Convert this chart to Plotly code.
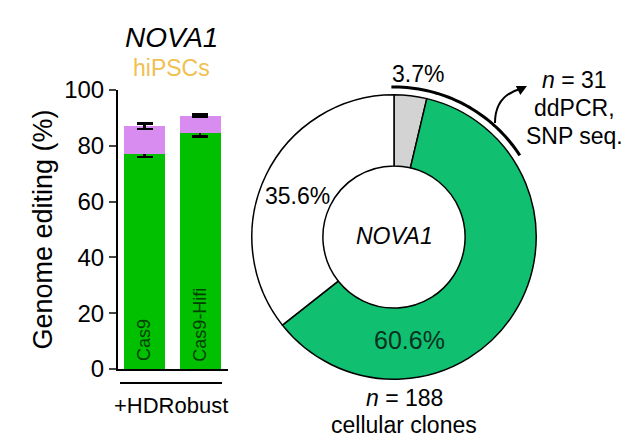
import plotly.graph_objects as go
import numpy as np

bar_cats = ["Cas9", "Cas9-Hifi"]
hdr_vals = [77.0, 84.5]
hdr_err = [1.0, 1.2]
indel_vals = [10.0, 6.3]
indel_err = [1.0, 0.5]
pie_labels = ["other", "edited", "unedited"]
pie_vals = [3.7, 60.6, 35.6]
tick_vals = [0, 20, 40, 60, 80, 100]

W, H, OFF = 629, 441, 8
def PX(px): return (px - OFF) / W
def PY(py): return 1 - (py - OFF) / H

F = "Liberation Sans, Arial"
fig = go.Figure()
fig.add_bar(x=bar_cats, y=hdr_vals, marker_color="#00c000", marker_line_width=0, width=0.74,
            error_y=dict(type="data", array=hdr_err, color="black", thickness=2.5, width=8))
fig.add_bar(x=bar_cats, y=indel_vals, marker_color="#d98cf0", marker_line_width=0, width=0.74,
            error_y=dict(type="data", array=indel_err, color="black", thickness=2.5, width=8))
cx, cy, R = 394, 237, 139
Rd = R * 1.023
fig.add_pie(values=pie_vals, labels=pie_labels, hole=0.5, sort=False, direction="clockwise",
            rotation=0, textinfo="none", showlegend=False, hoverinfo="skip",
            marker=dict(colors=["#d3d3d3", "#10c070", "white"], line=dict(color="black", width=1.5)),
            domain=dict(x=[PX(cx - Rd), PX(cx + Rd)], y=[PY(cy + Rd), PY(cy - Rd)]))
fig.update_layout(
    width=W, height=H, barmode="stack", showlegend=False,
    paper_bgcolor="white", plot_bgcolor="white",
    margin=dict(l=0, r=0, t=0, b=0, autoexpand=False),
    font=dict(family=F, color="black"),
    xaxis=dict(domain=[PX(118), PX(228)], range=[-0.48, 1.5], showticklabels=False, ticks="",
               showline=True, linecolor="black", linewidth=2, showgrid=False),
    yaxis=dict(domain=[PY(369), PY(90)], range=[0, 100], tickvals=tick_vals, ticks="outside",
               ticklen=7, tickwidth=2, showline=True, linecolor="black", linewidth=2,
               showgrid=False, zeroline=False, tickfont=dict(size=24),
               title=dict(text="Genome editing (%)", font=dict(size=27), standoff=4)),
)
for c in bar_cats:
    fig.add_annotation(x=c, y=2, yanchor="bottom", text=c, textangle=-90, showarrow=False,
                       font=dict(size=18, color="#004000"))
ann = [
    (171, 38, "<i>NOVA1</i>", 28, "black"),
    (171, 68, "hiPSCs", 23, "#f0c050"),
    (171, 405, "+HDRobust", 22, "black"),
    (418, 74, "3.7%", 23, "black"),
    (297, 196, "35.6%", 23, "black"),
    (409, 340, "60.6%", 25, "#0a3020"),
    (394, 236, "<i>NOVA1</i>", 23, "black"),
    (404, 398, "<i>n</i> = 188", 23, "black"),
    (404, 425, "cellular clones", 23, "black"),
    (574, 80, "<i>n</i> = 31", 23, "black"),
    (574, 108, "ddPCR,", 23, "black"),
    (574, 136, "SNP seq.", 23, "black"),
]
for x, y, t, s, col in ann:
    fig.add_annotation(xref="paper", yref="paper", x=PX(x), y=PY(y), text=t, showarrow=False,
                       font=dict(size=s, color=col), xanchor="center", yanchor="middle")
fig.add_shape(type="line", xref="paper", yref="paper", x0=PX(120), x1=PX(222),
              y0=PY(383), y1=PY(383), line=dict(color="black", width=2))
r = 150
ang = np.radians(np.linspace(-1, 57, 40))
pts = [(cx + r*np.sin(a), cy - r*np.cos(a)) for a in ang]
path = "M " + " L ".join(f"{PX(px):.5f},{PY(py):.5f}" for px, py in pts)
fig.add_shape(type="path", xref="paper", yref="paper", path=path, line=dict(color="black", width=3))
p0, p1, p2 = (495, 123), (495, 96), (520, 89)
cpath = f"M {PX(p0[0]):.5f},{PY(p0[1]):.5f} Q {PX(p1[0]):.5f},{PY(p1[1]):.5f} {PX(p2[0]):.5f},{PY(p2[1]):.5f}"
fig.add_shape(type="path", xref="paper", yref="paper", path=cpath, line=dict(color="black", width=2))
fig.add_annotation(xref="paper", yref="paper", x=PX(527), y=PY(86), ax=-8, ay=4,
                   showarrow=True, arrowhead=2, arrowsize=1, arrowwidth=2, arrowcolor="black", text="")
fig.write_html("out.html")
